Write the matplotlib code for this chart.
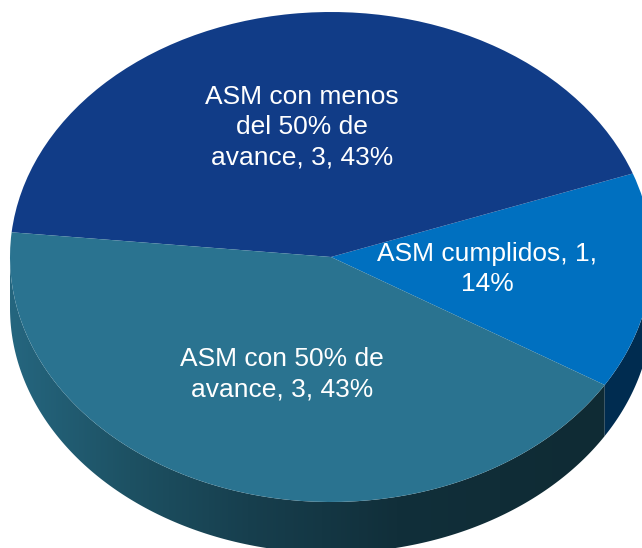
import numpy as np
import matplotlib
matplotlib.use('Agg')
import matplotlib.pyplot as plt
from matplotlib.patches import Polygon
from matplotlib.colors import LinearSegmentedColormap

labels = ['ASM cumplidos, 1,\n14%', 'ASM con menos\ndel 50% de\navance, 3, 43%', 'ASM con 50% de\navance, 3, 43%']
values = [1, 3, 3]
colors = ['#0070c0', '#113c87', '#2a7390']
label_pos = [(487, 269), (302, 127), (282, 374)]

W, H = 642, 548
CX, CY, RX, RY, DEPTH = 331, 257, 321, 245, 51
START = -31.5


def to_data(px, py):
    return (px - CX) / RX, (CY - py) / RY


fig = plt.figure(figsize=(W / 100, H / 100), dpi=100)
ax = fig.add_axes([0, 0, 1, 1])

# top of the pie, axes are in radius units so the circle comes out as an ellipse
ax.pie(values, colors=colors, startangle=START, radius=1, wedgeprops={'linewidth': 0.5, 'zorder': 2})
ax.set_aspect('auto')
ax.axis('off')

d = DEPTH / RY


def wall(a0, a1):
    t = np.radians(np.linspace(a0, a1, 300))
    x, y = np.cos(t), np.sin(t)
    return np.c_[np.r_[x, x[::-1]], np.r_[y, y[::-1] - d]]


# side wall
cmap = LinearSegmentedColormap.from_list('side', [(0, '#25667f'), (0.2, '#1d5163'), (0.4, '#173f4e'),
                                                  (0.65, '#112f3a'), (1, '#0f2b34')])
grad = np.linspace(0, 1, 256).reshape(1, -1)
im = ax.imshow(grad, extent=[-1, to_data(605, 0)[0], -1.3, 1.1], cmap=cmap, aspect='auto', zorder=1)
patch = Polygon(wall(180, 360 + START), closed=True, fc='none', ec='none', zorder=1)
ax.add_patch(patch)
im.set_clip_path(patch)
ax.add_patch(Polygon(wall(START, 0), closed=True, fc='#002c50', ec='none', zorder=1))
ax.set_aspect('auto')
ax.set_xlim(-CX / RX, (W - CX) / RX)
ax.set_ylim((CY - H) / RY, CY / RY)

for lab, (x, y) in zip(labels, label_pos):
    tx, ty = to_data(x, y)
    ax.text(tx, ty, lab, color='white', ha='center', va='center', fontsize=19,
            family='Liberation Sans', linespacing=1.33, zorder=3)

fig.savefig('out.png', dpi=100)
